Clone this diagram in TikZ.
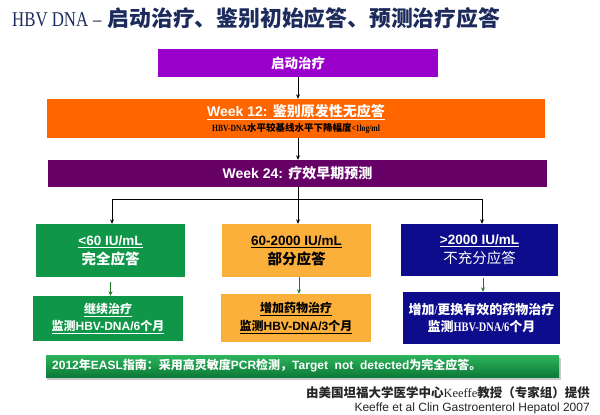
\documentclass[tikz,border=0pt]{standalone}
\usepackage{fontspec}
\setmainfont{Liberation Sans}
\newfontfamily\cjk{Noto Sans CJK SC}
\newfontfamily\tser{Liberation Serif}
\newfontfamily\tcond[FakeStretch=0.8]{Liberation Serif}
\usetikzlibrary{arrows.meta}
\newcommand\zh[1]{{\cjk #1}}
\newcommand\fs[1]{\fontsize{#1}{#1}\selectfont}
\definecolor{cTitle}{RGB}{28,42,92}
\definecolor{cPurple}{RGB}{153,0,204}
\definecolor{cOrange}{RGB}{255,102,0}
\definecolor{cPlum}{RGB}{102,0,102}
\definecolor{cGreen}{RGB}{16,150,72}
\definecolor{cGold}{RGB}{251,176,59}
\definecolor{cBlue}{RGB}{12,12,140}
\definecolor{cArrG}{RGB}{30,120,40}
\definecolor{cBanTop}{RGB}{45,180,92}
\definecolor{cBanBot}{RGB}{12,122,56}
\tikzset{
  box/.style={inner sep=0pt, align=center, font=\bfseries},
  arr/.style={-{Stealth[length=4.5pt,width=4pt]}, line width=0.8pt, black},
  garr/.style={-{Stealth[length=4.5pt,width=4pt]}, line width=1pt, cArrG},
}
\begin{document}
\begin{tikzpicture}[x=1pt,y=-1pt]
\useasboundingbox (0,0) rectangle (600,415);
% title
\node[anchor=west, text=cTitle, inner sep=0pt] (title) at (12,18.5)
  {{\tcond\fs{21}HBV DNA\hspace{5pt}–\hspace{6pt}}{\cjk\bfseries\fs{21.8}启动治疗、鉴别初始应答、预测治疗应答}};
% top boxes
\node[box, fill=cPurple, text=white, minimum width=280pt, minimum height=28pt] (start) at (298,63)
  {\fs{13.5}\zh{启动治疗}};
\node[box, fill=cOrange, text=white, minimum width=498pt, minimum height=39pt] (wk12) at (296,118.5)
  {\fs{14}\underline{Week 12: \zh{鉴别原发性无应答}}\\[3pt]
   \color{black}\fs{9.5}{\tcond HBV-DNA}\zh{水平较基线水平下降幅度}{\tcond <1log/ml}};
\node[box, fill=cPlum, text=white, minimum width=499pt, minimum height=27pt] (wk24) at (297.5,173.5)
  {\fs{14}Week 24: \zh{疗效早期预测}};
% middle boxes
\node[box, fill=cGreen, text=white, minimum width=149pt, minimum height=53pt] (A) at (110.5,250.5)
  {\fs{13.5}\underline{<60 IU/mL}\\[3pt]\fs{14.5}\zh{完全应答}};
\node[box, fill=cGold, text=black, minimum width=149pt, minimum height=53pt] (B) at (296.5,250.5)
  {\fs{13.5}\underline{60-2000 IU/mL}\\[3pt]\fs{14.5}\zh{部分应答}};
\node[box, fill=cBlue, text=white, minimum width=157pt, minimum height=52pt] (C) at (479.5,250)
  {\fs{13.5}\underline{>2000 IU/mL}\\[3pt]\fs{14.5}\mdseries\zh{不充分应答}};
% lower boxes
\node[box, fill=cGreen, text=white, minimum width=150pt, minimum height=45pt] (A2) at (108,318.5)
  {\fs{12}\underline{\zh{继续治疗}}\\[3pt]\fs{12}\underline{\zh{监测}HBV-DNA/6\zh{个月}}};
\node[box, fill=cGold, text=black, minimum width=150pt, minimum height=48pt] (B2) at (296,318)
  {\fs{12}\underline{\zh{增加药物治疗}}\\[3pt]\fs{12}\underline{\zh{监测}HBV-DNA/3\zh{个月}}};
\node[box, fill=cBlue, text=white, minimum width=157pt, minimum height=52pt] (C2) at (481.5,318)
  {\fs{13}\zh{增加}{\tcond/}\zh{更换有效的药物治疗}\\[3pt]\fs{13}\zh{监测}{\tcond HBV-DNA/6}\zh{个月}};
% banner
\fill[black!35, opacity=0.6] (47,357.5) rectangle (561,379.5);
\node[box, top color=cBanTop, bottom color=cBanBot, minimum width=513pt, minimum height=22pt] (banner) at (302.5,366) {};
\node[anchor=west, text=white, inner sep=0pt, font=\bfseries] (bantext) at (52,366)
  {\fs{12}2012\zh{年}EASL\zh{指南：采用高灵敏度}PCR\zh{检测，}Target\ \ not\ \ detected\zh{为完全应答。}};
% footer
\node[anchor=east, inner sep=0pt, text=black!85] (foot1) at (590,393)
  {\fs{12.5}\zh{\bfseries 由美国坦福大学医学中心}{\tser Keeffe}\zh{\bfseries 教授（专家组）提供}};
\node[anchor=east, inner sep=0pt, text=black!85] (foot2) at (590,408)
  {\fs{12}Keeffe et al Clin Gastroenterol Hepatol 2007};
% connectors
\coordinate (hub) at (298,199);
\coordinate (hl) at (112,199);
\coordinate (hr) at (482,199);
\draw[arr] (start.south -| hub) -- (wk12.north -| hub);
\draw[arr] (wk12.south -| hub) -- (wk24.north -| hub);
\draw[line width=0.8pt] (wk24.south -| hub) -- (hub);
\draw[line width=0.8pt] (hl) -- (hr);
\draw[arr] (hl) -- (A.north -| hl);
\draw[arr] (hub) -- (B.north -| hub);
\draw[arr] (hr) -- (C.north -| hr);
\draw[garr] ([yshift=-5pt]A.south) -- (A.south |- A2.north);
\draw[garr] ([xshift=2.5pt]B.south) -- ([xshift=2.5pt]B.south |- B2.north);
\draw[garr] ([xshift=3.5pt,yshift=-2pt]C.south) -- ([xshift=3.5pt]C.south |- C2.north);
\end{tikzpicture}
\end{document}
